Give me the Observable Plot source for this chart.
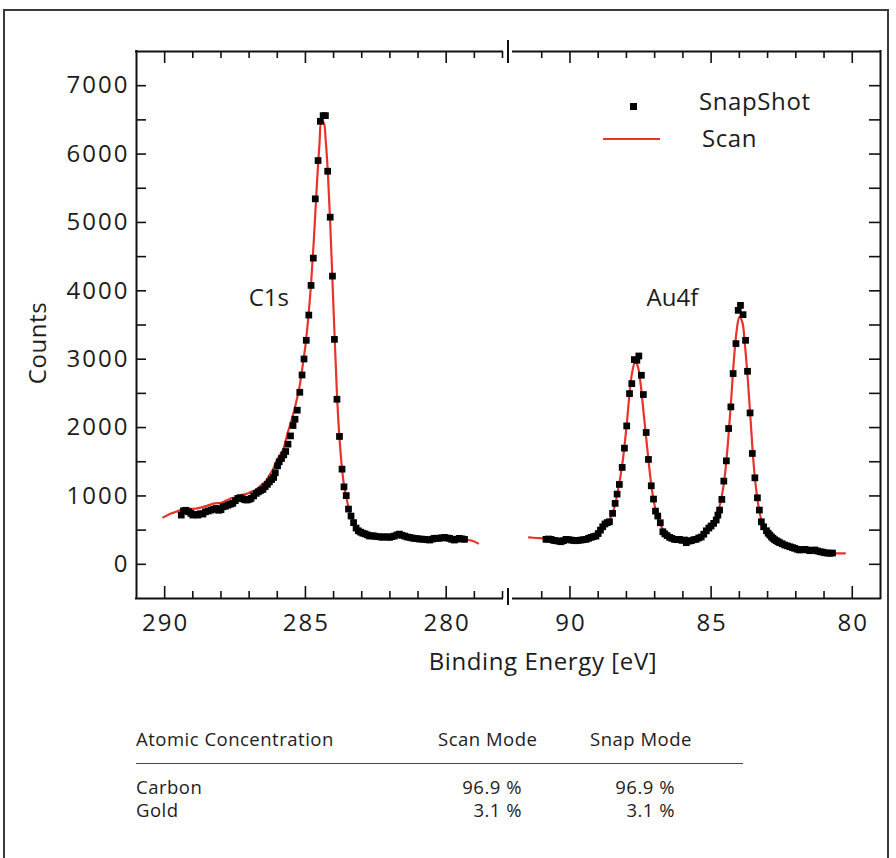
<!DOCTYPE html>
<html><head><meta charset="utf-8">
<script src="https://cdn.jsdelivr.net/npm/d3@7"></script>
<script src="https://cdn.jsdelivr.net/npm/@observablehq/plot@0.6"></script>
<style>
body{margin:0;background:#fff;font-family:"Open Sans",sans-serif;color:#1c1c1c;}
#wrap{position:relative;width:896px;height:858px;overflow:hidden;background:#fff;}
#border{position:absolute;left:3px;top:9px;width:886px;height:920px;border:2.5px solid #3a3a3a;box-sizing:border-box;}
#chart{position:absolute;left:0;top:0;}
.t{position:absolute;white-space:nowrap;line-height:1;}
.t24{font-size:24px;line-height:24px;letter-spacing:0.6px;}
.t18{font-size:18.5px;line-height:18px;letter-spacing:0.5px;}
</style></head>
<body>
<div id="wrap">
  <div id="border"></div>
  <div id="chart"></div>
</div>
<script>
// ---------- data ----------
// SnapShot (squares), C1s region
const c1sSnapE = [289.41,289.33,289.25,289.15,289.07,289.00,288.91,288.82,288.73,288.64,288.55,288.45,288.35,288.26,288.17,288.08,288.00,287.93,287.84,287.75,287.66,287.58,287.49,287.40,287.32,287.24,287.16,287.08,287.00,286.93,286.84,286.75,286.67,286.59,286.51,286.43,286.35,286.28,286.20,286.13,286.07,285.99,285.93,285.85,285.77,285.70,285.62,285.53,285.44,285.37,285.29,285.20,285.12,285.05,284.97,284.88,284.80,284.72,284.65,284.55,284.47,284.37,284.29,284.21,284.12,284.04,283.97,283.88,283.79,283.70,283.63,283.55,283.47,283.38,283.29,283.20,283.12,283.04,282.96,282.88,282.80,282.72,282.63,282.55,282.46,282.37,282.28,282.19,282.10,282.01,281.93,281.84,281.75,281.66,281.57,281.48,281.39,281.30,281.21,281.13,281.04,280.95,280.86,280.77,280.68,280.59,280.50,280.42,280.33,280.24,280.15,280.06,279.97,279.88,279.80,279.71,279.62,279.53,279.44,279.35];
const c1sSnapCounts = [720,783,790,768,745,720,730,720,740,735,768,780,793,805,818,790,800,841,850,866,880,891,930,964,975,960,945,940,950,964,1000,1037,1060,1080,1095,1135,1170,1206,1240,1270,1338,1440,1499,1548,1600,1650,1757,1878,2030,2122,2254,2516,2769,3003,3276,3645,4079,4478,5345,5905,6479,6562,6562,5749,5077,4215,3290,2414,1870,1392,1133,1005,808,706,610,530,490,470,455,445,430,413,418,413,405,403,395,403,400,394,405,413,430,442,425,413,400,394,385,380,375,370,368,365,360,355,368,380,382,380,388,394,385,380,365,355,368,380,372,365];
// SnapShot (squares), Au4f region
const au4fSnapE = [90.85,90.76,90.67,90.58,90.50,90.41,90.32,90.23,90.14,90.05,89.96,89.88,89.79,89.70,89.61,89.52,89.43,89.34,89.25,89.17,89.08,89.00,88.92,88.84,88.76,88.68,88.60,88.49,88.40,88.33,88.25,88.15,88.07,87.99,87.89,87.81,87.72,87.63,87.56,87.47,87.40,87.30,87.22,87.12,87.04,86.97,86.89,86.80,86.71,86.64,86.56,86.47,86.39,86.30,86.21,86.12,86.03,85.94,85.88,85.79,85.70,85.61,85.53,85.44,85.35,85.26,85.17,85.08,85.00,84.91,84.82,84.76,84.70,84.62,84.55,84.46,84.38,84.30,84.22,84.12,84.04,83.96,83.87,83.78,83.71,83.62,83.54,83.45,83.36,83.29,83.22,83.14,83.04,82.98,82.92,82.86,82.81,82.75,82.69,82.63,82.57,82.48,82.39,82.30,82.21,82.12,82.04,81.95,81.86,81.77,81.68,81.59,81.50,81.41,81.32,81.23,81.14,81.05,80.97,80.88,80.79,80.70];
const au4fSnapCounts = [365,370,365,350,345,340,330,345,365,360,355,350,345,350,355,360,365,380,394,405,413,450,500,549,590,610,622,745,891,1027,1168,1417,1699,2024,2497,2643,2994,2984,3047,2765,2483,1928,1534,1148,954,778,706,608,476,445,420,394,380,365,360,365,350,355,316,340,345,360,365,385,399,440,490,530,560,599,647,720,793,949,1217,1513,1986,2302,2790,3228,3714,3787,3651,3276,2823,2214,1621,1265,973,793,622,549,491,455,428,400,380,360,345,330,316,300,282,270,257,245,234,220,209,215,219,210,199,205,209,195,184,178,169,165,161,165];
// Scan (red line), C1s region
const c1sScanE = [290.05,289.80,289.59,289.40,289.24,289.00,288.70,288.50,288.23,288.00,287.80,287.64,287.45,287.28,287.10,286.93,286.75,286.57,286.40,286.28,286.15,286.04,285.90,285.80,285.62,285.50,285.40,285.30,285.20,285.10,285.00,284.90,284.80,284.70,284.60,284.50,284.43,284.35,284.28,284.20,284.12,284.04,283.96,283.88,283.80,283.70,283.62,283.55,283.46,283.38,283.28,283.18,283.08,282.95,282.80,282.60,282.30,282.00,281.80,281.60,281.40,281.20,281.00,280.70,280.40,280.10,279.80,279.50,279.20,279.05,278.87];
const c1sScanCounts = [686,740,768,800,818,810,832,855,891,900,935,964,980,1012,1030,1060,1090,1158,1220,1304,1390,1499,1600,1669,1937,2100,2250,2420,2620,2900,3200,3600,4100,4750,5500,6150,6480,6460,6200,5700,5000,4150,3300,2500,1900,1400,1130,990,810,700,610,530,480,450,430,415,405,400,415,420,400,385,375,360,375,385,365,370,355,340,306];
// Scan (red line), Au4f region
const au4fScanE = [91.45,91.20,90.90,90.60,90.30,90.00,89.70,89.40,89.20,89.00,88.80,88.60,88.45,88.30,88.15,88.00,87.90,87.80,87.69,87.60,87.50,87.40,87.30,87.20,87.10,87.00,86.90,86.80,86.60,86.40,86.20,86.00,85.80,85.60,85.40,85.20,85.00,84.85,84.70,84.60,84.50,84.40,84.30,84.20,84.10,84.00,83.90,83.80,83.70,83.60,83.50,83.40,83.30,83.20,83.10,82.95,82.80,82.60,82.40,82.20,82.00,81.80,81.60,81.40,81.20,81.00,80.80,80.50,80.26];
const au4fScanCounts = [394,385,375,355,345,355,350,375,400,440,540,650,800,1080,1450,2000,2450,2800,2960,2900,2650,2250,1850,1450,1100,860,700,580,460,400,370,355,345,360,395,470,570,680,850,1050,1350,1800,2350,2950,3400,3616,3550,3200,2700,2100,1500,1080,800,620,520,430,370,320,285,255,230,212,205,200,190,175,165,160,161];

// axes / ticks / labels
const xDomain = [291, 278, 92, 79];
const xTickLabels = [290, 285, 280, 90, 85, 80];
const xMinorTicks = [289,288,287,286,284,283,282,281,279,278,91,89,88,87,86,84,83,82,81];
const yDomain = [-500, 7500];
const yTickLabels = [0,1000,2000,3000,4000,5000,6000,7000];
const yAllTicks = [0,500,1000,1500,2000,2500,3000,3500,4000,4500,5000,5500,6000,6500,7000];
const peakLabels = ["C1s", "Au4f"];
const peakLabelE = [286.3, 86.37];
const peakLabelCounts = [3890, 3890];

// ---------- build ----------
const toRows = (E, C) => E.map((e, i) => ({e, c: C[i]}));
const snap = [...toRows(c1sSnapE, c1sSnapCounts), ...toRows(au4fSnapE, au4fSnapCounts)];
const scanC = toRows(c1sScanE, c1sScanCounts);
const scanAu = toRows(au4fScanE, au4fScanCounts);
const ann = peakLabels.map((t, i) => ({t, e: peakLabelE[i], c: peakLabelCounts[i]}));

const W = 896, H = 700, mL = 136, mR = 16, mT = 51, mB = 102;
const innerH = H - mT - mB, innerW = W - mL - mR;
const RED = "#e8322a", INK = "#111";
const breakX = 185; // value midway in the axis gap

const chart = Plot.plot({
  width: W, height: H,
  marginLeft: mL, marginRight: mR, marginTop: mT, marginBottom: mB,
  style: {fontFamily: "'Open Sans', sans-serif", fontSize: "24px", color: "#1c1c1c", background: "transparent"},
  x: {type: "linear", domain: xDomain, range: [mL, 502, 513, W - mR]},
  y: {domain: yDomain},
  marks: [
    // frame lines with axis break
    Plot.ruleY([yDomain[0], yDomain[1]], {x1: xDomain[0], x2: xDomain[1], stroke: INK, strokeWidth: 2, strokeLinecap: "square"}),
    Plot.ruleY([yDomain[0], yDomain[1]], {x1: xDomain[2], x2: xDomain[3], stroke: INK, strokeWidth: 2, strokeLinecap: "square"}),
    Plot.ruleX([xDomain[0], xDomain[3]], {stroke: INK, strokeWidth: 2, strokeLinecap: "square"}),
    Plot.ruleX([breakX], {stroke: INK, strokeWidth: 2, insetTop: -11, insetBottom: innerH - 12}),
    Plot.ruleX([breakX], {stroke: INK, strokeWidth: 2, insetTop: innerH - 10, insetBottom: -7}),
    // inward ticks
    Plot.tickX(xTickLabels, {x: d => d, stroke: INK, strokeWidth: 1.6, insetTop: innerH - 12}),
    Plot.tickX(xTickLabels, {x: d => d, stroke: INK, strokeWidth: 1.6, insetBottom: innerH - 12}),
    Plot.tickX(xMinorTicks, {x: d => d, stroke: INK, strokeWidth: 1.6, insetTop: innerH - 7}),
    Plot.tickX(xMinorTicks, {x: d => d, stroke: INK, strokeWidth: 1.6, insetBottom: innerH - 7}),
    Plot.tickY(yAllTicks, {y: d => d, stroke: INK, strokeWidth: 1.6, insetRight: innerW - 10}),
    Plot.tickY(yAllTicks, {y: d => d, stroke: INK, strokeWidth: 1.6, insetLeft: innerW - 11}),
    // tick labels
    Plot.axisX(xTickLabels, {anchor: "bottom", tickSize: 0, tickPadding: 15, fontSize: 24, label: null, fill: "#1c1c1c", tickFormat: d => String(d)}),
    Plot.axisY(yTickLabels, {anchor: "left", tickSize: 0, tickPadding: 9, fontSize: 24, label: null, fill: "#1c1c1c", tickFormat: d => String(d)}),
    // data
    Plot.line(scanC, {x: "e", y: "c", stroke: RED, strokeWidth: 2.2, curve: "catmull-rom"}),
    Plot.line(scanAu, {x: "e", y: "c", stroke: RED, strokeWidth: 2.2, curve: "catmull-rom"}),
    Plot.dot(snap, {x: "e", y: "c", symbol: "square", r: 3.8, fill: "#000", stroke: "none"}),
    // peak labels
    Plot.text(ann, {x: "e", y: "c", text: "t", fontSize: 24, fill: "#1c1c1c"})
  ]
});
// wider digit spacing on tick labels, as in the reference font
d3.select(chart).selectAll('g[aria-label="x-axis tick label"] text').attr("letter-spacing", "2px").attr("dx", "1px");
d3.select(chart).selectAll('g[aria-label="y-axis tick label"] text').attr("letter-spacing", "2px").attr("dx", "2px");
document.getElementById("chart").appendChild(chart);

// ---------- HTML text: axis titles, legend, table ----------
const wrap = document.getElementById("wrap");
function addText(txt, cls, css) {
  const d = document.createElement("div");
  d.className = "t " + cls; d.textContent = txt;
  Object.assign(d.style, css); wrap.appendChild(d); return d;
}
function addBox(css) { const d = document.createElement("div"); d.style.position = "absolute"; Object.assign(d.style, css); wrap.appendChild(d); }

addText("Binding Energy [eV]", "t24", {left: "543px", top: "649px", transform: "translateX(-50%)"});
addText("Counts", "t24", {left: "37px", top: "343px", transform: "translate(-50%,-50%) rotate(-90deg)"});

// legend
const legendLabels = ["SnapShot", "Scan"];
addBox({left: "630px", top: "103px", width: "7px", height: "7px", background: "#000"});
addBox({left: "603px", top: "138px", width: "57px", height: "2.2px", background: RED});
addText(legendLabels[0], "t24", {left: "699px", top: "89px"});
addText(legendLabels[1], "t24", {left: "702px", top: "126px"});

// table
const tableHeader = ["Atomic Concentration", "Scan Mode", "Snap Mode"];
const elements = ["Carbon", "Gold"];
const scanMode = ["96.9 %", "3.1 %"];
const snapMode = ["96.9 %", "3.1 %"];
addText(tableHeader[0], "t18", {left: "136px", top: "730px"});
addText(tableHeader[1], "t18", {left: "438px", top: "730px"});
addText(tableHeader[2], "t18", {left: "590px", top: "730px"});
addBox({left: "136px", top: "763px", width: "607px", height: "1px", background: "#444"});
elements.forEach((el, i) => {
  const top = (778 + i * 23) + "px";
  addText(el, "t18", {left: "136px", top});
  addText(scanMode[i], "t18", {left: "422px", width: "100px", top, textAlign: "right"});
  addText(snapMode[i], "t18", {left: "575px", width: "100px", top, textAlign: "right"});
});
</script>
</body></html>
